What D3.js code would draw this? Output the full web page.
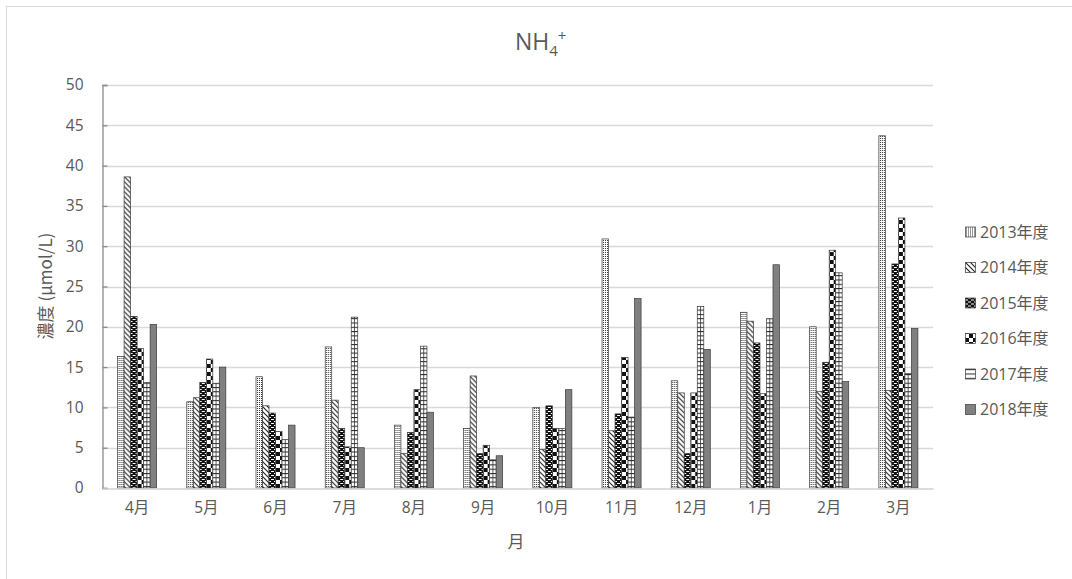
<!DOCTYPE html>
<html>
<head>
<meta charset="utf-8">
<script src="https://cdn.jsdelivr.net/npm/d3@7"></script>
<style>
  html, body { margin: 0; padding: 0; background: #fff; }
  svg { display: block; font-family: "Open Sans", "Noto Sans CJK JP", sans-serif; }
</style>
</head>
<body>
<svg id="chart" width="1072" height="579"></svg>
<script>
const months = ["4月","5月","6月","7月","8月","9月","10月","11月","12月","1月","2月","3月"];
const years = ["2013年度","2014年度","2015年度","2016年度","2017年度","2018年度"];
const v2013 = [16.3, 10.7, 13.8, 17.5, 7.8, 7.4, 10.0, 30.9, 13.3, 21.8, 20.0, 43.7];
const v2014 = [38.6, 11.2, 10.2, 10.9, 4.3, 13.9, 4.8, 7.1, 11.8, 20.7, 12.0, 12.1];
const v2015 = [21.3, 13.1, 9.3, 7.4, 6.9, 4.3, 10.2, 9.2, 4.3, 18.0, 15.6, 27.8];
const v2016 = [17.3, 16.0, 7.0, 5.1, 12.2, 5.3, 7.4, 16.2, 11.8, 11.7, 29.5, 33.5];
const v2017 = [13.1, 13.0, 6.0, 21.2, 17.6, 3.5, 7.4, 8.8, 22.5, 21.0, 26.7, 14.2];
const v2018 = [20.3, 15.0, 7.8, 5.0, 9.4, 4.0, 12.2, 23.5, 17.2, 27.7, 13.2, 19.8];
const yTicks = [0, 5, 10, 15, 20, 25, 30, 35, 40, 45, 50];
const series = [v2013, v2014, v2015, v2016, v2017, v2018];

const svg = d3.select("#chart");
const textColor = "#595959";

// chart border
svg.append("rect").attr("x", 6.5).attr("y", 6.5).attr("width", 1200).attr("height", 700)
  .attr("fill", "#fff").attr("stroke", "#d9d9d9").attr("stroke-width", 1);

// patterns
const defs = svg.append("defs");
function pat(id, w, h, build) {
  const p = defs.append("pattern").attr("id", id).attr("patternUnits", "userSpaceOnUse")
    .attr("width", w).attr("height", h);
  build(p);
}
pat("p2013", 2, 2, p => {
  p.append("rect").attr("width", 2).attr("height", 2).attr("fill", "#fff");
  p.append("rect").attr("x", 1).attr("y", 0).attr("width", 1).attr("height", 1).attr("fill", "#333");
});
pat("p2014", 5, 5, p => {
  p.append("rect").attr("width", 5).attr("height", 5).attr("fill", "#fff");
  p.append("path").attr("d", "M-1,-1 L6,6 M-1,4 L1,6 M4,-1 L6,1").attr("stroke", "#222").attr("stroke-width", 1.1);
});
pat("p2015", 6, 4, p => {
  p.append("rect").attr("width", 6).attr("height", 4).attr("fill", "#111");
  p.append("rect").attr("x", 0).attr("y", 1).attr("width", 3).attr("height", 1).attr("fill", "#fff");
  p.append("rect").attr("x", 3).attr("y", 3).attr("width", 3).attr("height", 1).attr("fill", "#fff");
});
pat("p2016", 8, 8, p => {
  p.append("rect").attr("width", 8).attr("height", 8).attr("fill", "#fff");
  p.append("rect").attr("x", 0).attr("y", 0).attr("width", 4).attr("height", 4).attr("fill", "#111");
  p.append("rect").attr("x", 4).attr("y", 4).attr("width", 4).attr("height", 4).attr("fill", "#111");
});
pat("p2017", 4, 4.3, p => {
  p.append("rect").attr("width", 4).attr("height", 4.3).attr("fill", "#fff");
  p.append("rect").attr("x", 0).attr("y", 0).attr("width", 4).attr("height", 1).attr("fill", "#222");
});
const fills = ["url(#p2013)", "url(#p2014)", "url(#p2015)", "url(#p2016)", "url(#p2017)", "#808080"];

// scales
const y = d3.scaleLinear().domain([0, 50]).range([488, 85]);
const x0 = d3.scaleBand().domain(months).range([102.5, 933]).paddingInner(0.436).paddingOuter(0.218);
const x1 = d3.scaleBand().domain(years).range([0, x0.bandwidth()]).padding(0);

// gridlines
svg.append("g").selectAll("line").data(yTicks.filter(t => t > 0)).join("line")
  .attr("x1", 102.5).attr("x2", 933).attr("y1", d => Math.round(y(d)) + 0.5).attr("y2", d => Math.round(y(d)) + 0.5)
  .attr("stroke", "#d9d9d9").attr("stroke-width", 1.3);

// y axis
const yAxis = svg.append("g").attr("transform", "translate(102.5,0)")
  .call(d3.axisLeft(y).tickValues(yTicks).tickSize(-5).tickPadding(19).tickFormat(d3.format("d")));
yAxis.select(".domain").attr("stroke", "#8c8c8c").attr("stroke-width", 1.3);
yAxis.selectAll(".tick line").attr("stroke", "#8c8c8c").attr("stroke-width", 1.3);
yAxis.selectAll(".tick text").attr("fill", textColor).style("font-size", "15.5px")
  .style("font-family", "'Open Sans', sans-serif");

// bars
const groups = svg.append("g").selectAll("g").data(months).join("g")
  .attr("transform", d => `translate(${x0(d)},0)`);
const barData = (m, i) => years.map((yr, j) => ({ yr, j, v: series[j][i] }));
groups.selectAll("rect").data(barData).join("rect")
  .attr("x", d => x1(d.yr))
  .attr("y", d => y(d.v))
  .attr("width", x1.bandwidth())
  .attr("height", d => y(0) - y(d.v))
  .attr("fill", d => fills[d.j])
  .attr("stroke", "#3a3a3a").attr("stroke-width", 0.7);
// center divider for 2017 grid pattern
groups.selectAll("line.div").data((m, i) => barData(m, i).filter(d => d.j === 4)).join("line")
  .attr("class", "div")
  .attr("x1", d => x1(d.yr) + x1.bandwidth() / 2).attr("x2", d => x1(d.yr) + x1.bandwidth() / 2)
  .attr("y1", d => y(d.v)).attr("y2", y(0))
  .attr("stroke", "#333").attr("stroke-width", 0.8);

// x axis
const xAxis = svg.append("g").attr("transform", "translate(0,488.5)")
  .call(d3.axisBottom(x0).tickSize(0).tickPadding(13));
xAxis.select(".domain").attr("stroke", "#d0d0d0").attr("stroke-width", 1.5);
xAxis.selectAll(".tick text").attr("fill", textColor).style("font-size", "15.5px")
  .style("font-family", "'Open Sans', 'Noto Sans CJK JP', sans-serif");

// title
const title = svg.append("text").attr("x", 515).attr("y", 50).attr("fill", textColor)
  .style("font-size", "23px");
title.append("tspan").text("NH");
title.append("tspan").attr("dy", 6).style("font-size", "15px").text("4");
title.append("tspan").attr("dy", -15).style("font-size", "15px").text("+");

// axis titles
svg.append("text").attr("transform", "translate(52,286) rotate(-90)").attr("text-anchor", "middle")
  .attr("fill", textColor).style("font-size", "17px")
  .style("font-family", "'Noto Sans CJK JP', 'Open Sans', sans-serif").text("濃度 (µmol/L)");
svg.append("text").attr("x", 516).attr("y", 548).attr("text-anchor", "middle")
  .attr("fill", textColor).style("font-size", "17px")
  .style("font-family", "'Noto Sans CJK JP', sans-serif").text("月");

// legend
const legend = svg.append("g").selectAll("g").data(years).join("g")
  .attr("transform", (d, i) => `translate(965,${231.5 + i * 35.5})`);
legend.append("rect").attr("x", 0.5).attr("y", -4.5).attr("width", 10).attr("height", 10)
  .attr("fill", (d, i) => fills[i]).attr("stroke", "#3a3a3a").attr("stroke-width", 0.7);
legend.append("text").attr("x", 15).attr("y", 6).attr("fill", textColor)
  .style("font-size", "16px").style("font-family", "'Open Sans', 'Noto Sans CJK JP', sans-serif")
  .text(d => d);
</script>
</body>
</html>
